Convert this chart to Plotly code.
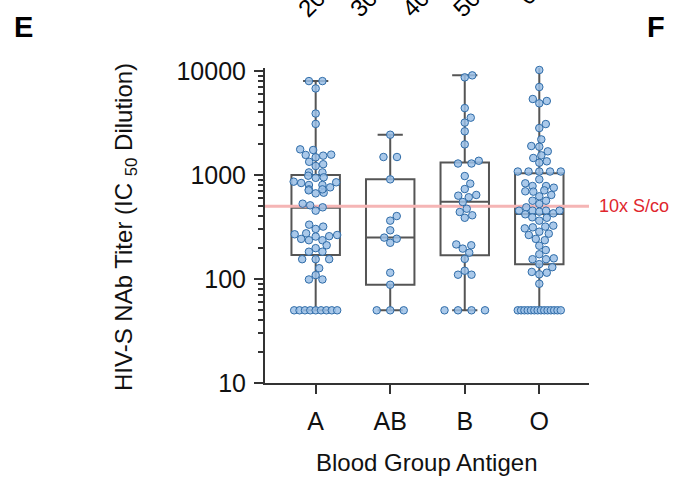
import numpy as np
import plotly.graph_objects as go

# ---------------- data ----------------
groups = ["A", "AB", "B", "O"]

titer_A = [8000, 8000, 6800, 3900, 3100, 1480, 1570, 1560, 1740, 1765, 1535,
           1220, 1270, 1340, 1060, 1060, 940, 950, 985, 863, 802, 838, 802, 851,
           728, 676, 761, 712, 728, 666, 530, 511, 489, 454, 303, 319, 333, 265,
           256, 269, 275, 258, 236, 236, 243, 211, 198, 183, 183, 155, 155, 155,
           127, 109, 99, 99, 50, 50, 50, 50, 50, 50, 50, 50, 50]
titer_AB = [2440, 1490, 1490, 908, 403, 364, 294, 250, 244, 223, 115, 88, 50, 50, 50]
titer_B = [8690, 9080, 4400, 3190, 3560, 2630, 1970, 1290, 1370, 1290, 977, 826,
           643, 633, 733, 611, 550, 441, 474, 410, 388, 215, 211, 196, 179, 156,
           120, 110, 110, 50, 50, 50, 50]
titer_O = [11670, 10230, 7020, 5380, 5150, 4890, 3090, 2830, 2200, 1870, 1900,
           1546, 1457, 1689, 1313, 1354, 1080, 1080, 1080, 1080, 1080,
           908, 832, 784, 784, 755, 712, 697, 692, 624, 643,
           526, 566, 566, 489, 454, 454, 444, 428, 419, 454, 454, 392, 388, 364,
           326, 307, 314, 285, 319, 273, 265, 243, 236, 209, 190, 173, 158, 155,
           155, 130, 139, 111, 115, 117, 90] + [50] * 14

box_q1 = [170, 88, 169, 139]
box_median = [485, 250, 554, 422]
box_q3 = [1000, 908, 1316, 1038]
box_min = [50, 50, 50, 50]
box_max = [8000, 2440, 9080, 11670]

threshold = 500
threshold_label = "10x S/co"
top_labels = ["20", "30", "40", "50", "60"]

# ---------------- layout geometry ----------------
W, H = 687, 487
L, R, T, B = 265, 589, 68, 383
x_range = [-0.68, 3.667]
y_range = [1, 4.029]
px_per_x = (R - L) / (x_range[1] - x_range[0])
px_per_dec = (B - T) / (y_range[1] - y_range[0])

FONT = "Arial, Liberation Sans, sans-serif"
DOT_FILL = "rgba(155,192,230,0.85)"
DOT_LINE = "#2f6ca8"
BOX_LINE = "#555555"
AXIS = "#333333"


def swarm(vals, D=7.6, maxw=22.0, row_sp=13.5, row_w=43.0):
    vals = np.asarray(vals, float)
    ys = np.log10(vals) * px_per_dec
    offs = np.zeros(len(vals))
    placed = []
    cands = [0.0]
    k = 1
    while k * 0.5 <= maxw:
        cands += [k * 0.5, -k * 0.5]
        k += 1
    for v in sorted(set(vals)):
        idxs = [i for i in range(len(vals)) if vals[i] == v]
        n = len(idxs)
        y = ys[idxs[0]]
        if n > 1:
            sp = min(row_sp, row_w / (n - 1))
            for j, i in enumerate(idxs):
                offs[i] = (j - (n - 1) / 2) * sp
                placed.append((offs[i], y))
        else:
            best = None
            for c in cands:
                if all(np.hypot(c - px, y - py) >= D for px, py in placed):
                    best = c
                    break
            if best is None:
                best = max(cands, key=lambda c: min(np.hypot(c - px, y - py) for px, py in placed))
            offs[idxs[0]] = best
            placed.append((best, y))
    return offs / px_per_x


fig = go.Figure()

all_vals = [titer_A, titer_AB, titer_B, titer_O]

fig.add_trace(go.Scatter(x=x_range, y=[threshold, threshold], mode="lines",
                         line=dict(color="#f5b5b5", width=3), hoverinfo="skip",
                         showlegend=False, cliponaxis=False))

for gi in range(len(groups)):
    fig.add_trace(go.Box(x=[gi], q1=[box_q1[gi]], median=[box_median[gi]], q3=[box_q3[gi]],
                         lowerfence=[box_min[gi]], upperfence=[box_max[gi]],
                         width=0.65, whiskerwidth=0.52, boxpoints=False,
                         line=dict(color=BOX_LINE, width=2),
                         fillcolor="rgba(0,0,0,0)", showlegend=False))

for gi, vals in enumerate(all_vals):
    offs = swarm(vals)
    fig.add_trace(go.Scatter(x=gi + offs, y=vals, mode="markers",
                             marker=dict(size=7.5, color=DOT_FILL,
                                         line=dict(color=DOT_LINE, width=1)),
                             showlegend=False, cliponaxis=False))

fig.update_layout(
    width=W, height=H,
    margin=dict(l=L, r=W - R, t=T, b=H - B, pad=0),
    paper_bgcolor="white", plot_bgcolor="white",
    font=dict(family=FONT, size=24, color="#111111"),
    showlegend=False,
    xaxis=dict(range=x_range, tickmode="array", tickvals=list(range(len(groups))),
               ticktext=groups, ticks="outside", ticklen=9, tickwidth=2,
               tickcolor=AXIS, showline=True, linecolor=AXIS, linewidth=2,
               showgrid=False, zeroline=False, tickfont=dict(size=25),
               ticklabelstandoff=6),
    yaxis=dict(type="log", range=y_range, tickmode="linear", tick0=0, dtick=1,
               tickformat="d", ticks="outside", ticklen=9, tickwidth=2,
               tickcolor=AXIS, showline=True, linecolor=AXIS, linewidth=2,
               showgrid=False, zeroline=False, tickfont=dict(size=25),
               ticklabelstandoff=3,
               minor=dict(dtick="D1", ticks="outside",
                          ticklen=5, tickwidth=1.5, tickcolor=AXIS, showgrid=False)),
)


def px2paper(px, py):
    return (px - L) / (R - L), (B - py) / (B - T)


ann = []
xp, yp = px2paper(125, 227)
ann.append(dict(text="HIV-S NAb Titer (IC <sub>50</sub> Dilution)", x=xp, y=yp,
                xref="paper", yref="paper", textangle=-90, showarrow=False,
                font=dict(size=24), xanchor="center", yanchor="middle"))
xp, yp = px2paper(427, 462)
ann.append(dict(text="Blood Group Antigen", x=xp, y=yp, xref="paper", yref="paper",
                showarrow=False, font=dict(size=24), xanchor="center", yanchor="middle"))
xp, _ = px2paper(597, 0)
ann.append(dict(text=threshold_label, x=xp, y=np.log10(threshold), xref="paper", yref="y",
                showarrow=False, xanchor="left", yanchor="middle",
                font=dict(size=18, color="#e0262d")))
for letter, px in [("E", 23), ("F", 656)]:
    xp, yp = px2paper(px, 27)
    ann.append(dict(text="<b>%s</b>" % letter, x=xp, y=yp, xref="paper", yref="paper",
                    showarrow=False, xanchor="center", yanchor="middle",
                    font=dict(size=29, color="black")))
top_pos = [(311, 3), (363, 3), (415, 3), (466, 3), (531, -9)]
for lab, (px, py) in zip(top_labels, top_pos):
    xp, yp = px2paper(px, py)
    ann.append(dict(text=lab, x=xp, y=yp, xref="paper", yref="paper", textangle=-45,
                    showarrow=False, xanchor="center", yanchor="middle",
                    font=dict(size=24, color="black")))
fig.update_layout(annotations=ann)

fig.write_html("out.html", config={"displayModeBar": False},
               post_script="document.body.style.margin='0px';")
